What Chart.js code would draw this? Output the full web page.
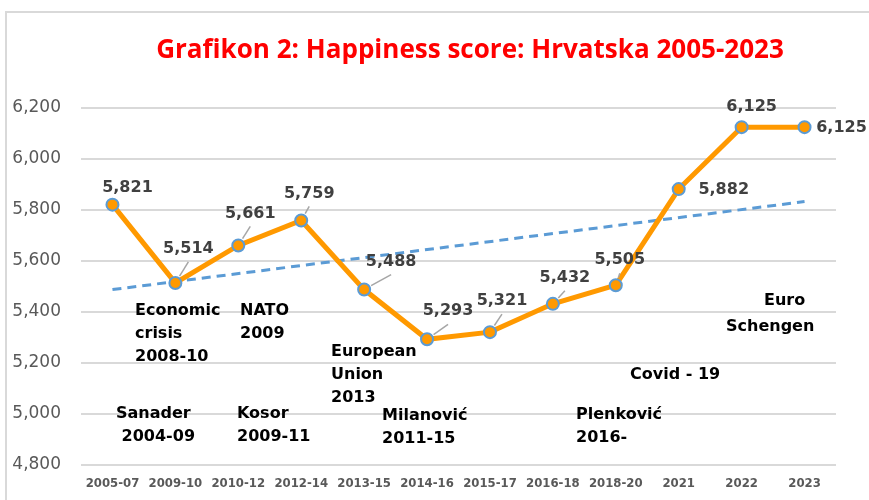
<!DOCTYPE html>
<html><head><meta charset="utf-8">
<script src="https://cdn.jsdelivr.net/npm/chart.js@4.4.1/dist/chart.umd.min.js"></script>
<style>
html,body{margin:0;padding:0;background:#fff;overflow:hidden;}
canvas{display:block;}
</style></head><body>
<canvas id="c" width="869" height="500"></canvas>
<script>
// ---- data ----
const categories = ['2005-07','2009-10','2010-12','2012-14','2013-15','2014-16','2015-17','2016-18','2018-20','2021','2022','2023'];
const happiness = [5821,5514,5661,5759,5488,5293,5321,5432,5505,5882,6125,6125];
const trendEnds = [5488,5833];
const yMin = 4800, yMax = 6200, yStep = 200;
const titleText = 'Grafikon 2: Happiness score: Hrvatska 2005-2023';
const notes = [
  ['Economic','crisis','2008-10'],
  ['NATO','2009'],
  ['European','Union','2013'],
  ['Sanader',' 2004-09'],
  ['Kosor','2009-11'],
  ['Milanović','2011-15'],
  ['Plenković','2016-'],
  ['Covid - 19'],
  ['Euro'],
  ['Schengen']
];

// ---- layout (pixels) ----
const noteLayout = [
  {x:135,y:311,lh:23},{x:240,y:311,lh:23},{x:331,y:352,lh:23},
  {x:116,y:414,lh:23},{x:237,y:414,lh:23},{x:382,y:416,lh:23},
  {x:576,y:415,lh:23},{x:630,y:375,lh:23},{x:764,y:301,lh:23},{x:726,y:327,lh:23}
];
const labelOffsets = [[15,-17],[13,-34],[12,-32],[8,-27],[27,-28],[21,-28],[12,-31],[12,-26],[4,-25],[45,1],[10,-20],[37,1]];
const leaderIdx = [1,2,3,4,5,6,7,8];

const trendData = categories.map((_,i)=> i===0 ? trendEnds[0] : (i===categories.length-1 ? trendEnds[1] : null));

const frame = {
  id:'frame',
  beforeDraw(chart){
    const ctx = chart.ctx;
    ctx.save();
    ctx.fillStyle = '#fff';
    ctx.fillRect(0,0,chart.width,chart.height);
    ctx.strokeStyle = '#d9d9d9'; ctx.lineWidth = 2;
    ctx.beginPath();
    ctx.moveTo(6, chart.height); ctx.lineTo(6, 12); ctx.lineTo(chart.width + 2, 12);
    ctx.stroke();
    ctx.restore();
  }
};

const overlay = {
  id:'overlay',
  afterDatasetsDraw(chart){
    const ctx = chart.ctx;
    const meta = chart.getDatasetMeta(1);
    ctx.save();
    // leader lines
    ctx.strokeStyle = '#a6a6a6'; ctx.lineWidth = 1.5;
    leaderIdx.forEach(i=>{
      const p = meta.data[i];
      const lx = p.x + labelOffsets[i][0], ly = p.y + labelOffsets[i][1] + 13;
      const dx = lx - p.x, dy = ly - p.y, d = Math.hypot(dx,dy);
      if (d < 9) return;
      ctx.beginPath();
      ctx.moveTo(p.x + dx/d*8, p.y + dy/d*8);
      ctx.lineTo(lx, ly);
      ctx.stroke();
    });
    // data labels
    ctx.fillStyle = '#404040';
    ctx.font = 'bold 16px "DejaVu Sans"';
    ctx.textAlign = 'center'; ctx.textBaseline = 'middle';
    happiness.forEach((v,i)=>{
      const p = meta.data[i];
      ctx.fillText(v.toLocaleString('en-US'), p.x + labelOffsets[i][0], p.y + labelOffsets[i][1]);
    });
    // annotations
    ctx.fillStyle = '#000';
    ctx.font = 'bold 16px "DejaVu Sans"';
    ctx.textAlign = 'left';
    notes.forEach((lines,k)=>{
      const L = noteLayout[k];
      lines.forEach((t,j)=> ctx.fillText(t, L.x, L.y + j*L.lh));
    });
    // title
    ctx.fillStyle = '#ff0000';
    ctx.textAlign = 'center';
    let fs = 22;
    ctx.font = 'bold '+fs+'px "Open Sans"';
    const w = ctx.measureText(titleText).width;
    fs = fs * 628 / w;
    ctx.font = 'bold '+fs.toFixed(2)+'px "Open Sans"';
    ctx.fillText(titleText, 470, 51);
    ctx.restore();
  }
};

new Chart(document.getElementById('c'), {
  type:'line',
  data:{
    labels:categories,
    datasets:[
      {label:'Trend', data:trendData, spanGaps:true, borderColor:'#5b9bd5', borderWidth:3, borderDash:[9,6], pointRadius:0, fill:false, tension:0, order:2},
      {label:'Happiness score', data:happiness, borderColor:'#ff9900', borderWidth:5, pointRadius:6, pointHoverRadius:6,
       pointBackgroundColor:'#ff9900', pointBorderColor:'#5b9bd5', pointBorderWidth:2, fill:false, tension:0, order:1}
    ]
  },
  plugins:[frame, overlay],
  options:{
    responsive:false, animation:false, devicePixelRatio:1,
    layout:{padding:{top:108,right:33,bottom:0,left:0}},
    plugins:{legend:{display:false}, title:{display:false}, tooltip:{enabled:false}},
    scales:{
      x:{
        offset:true,
        grid:{display:false, drawTicks:false},
        border:{display:false},
        ticks:{color:'#595959', font:{family:'DejaVu Sans', size:11.7, weight:'bold'}, padding:12, maxRotation:0, autoSkip:false},
        afterFit(s){ s.height = 35; }
      },
      y:{
        min:yMin, max:yMax,
        grid:{color:'#d9d9d9', lineWidth:2, drawTicks:false},
        border:{display:false},
        ticks:{stepSize:yStep, color:'#595959', font:{family:'DejaVu Sans', size:17}, padding:20,
          callback:v=>v.toLocaleString('en-US')},
        afterFit(s){ s.width = 81; }
      }
    }
  }
});
</script>
</body></html>
